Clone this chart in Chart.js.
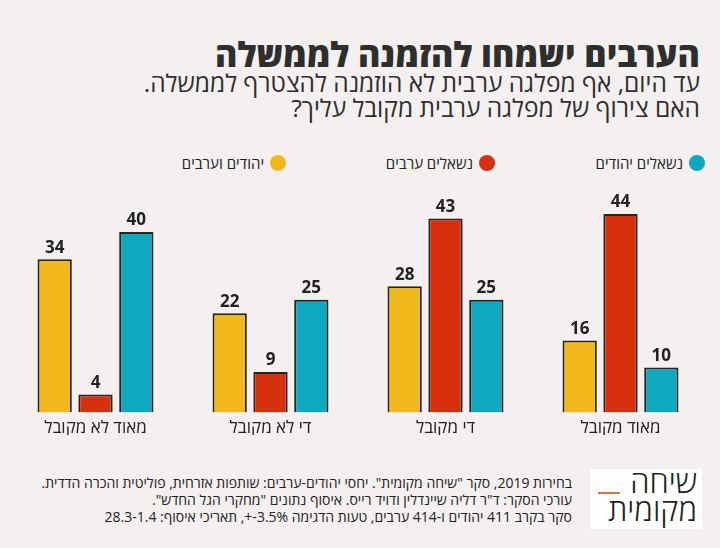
<!DOCTYPE html>
<html lang="he" dir="rtl">
<head>
<meta charset="utf-8">
<script src="https://cdn.jsdelivr.net/npm/chart.js@4.4.1/dist/chart.umd.min.js"></script>
<style>
  html,body{margin:0;padding:0;}
  body{width:720px;height:548px;background:#f3f0ef;position:relative;overflow:hidden;
       font-family:"Open Sans","DejaVu Sans",sans-serif;color:#2b2b2b;}
  .title{position:absolute;right:20px;top:33px;font-size:34px;font-weight:800;line-height:42px;white-space:nowrap;color:#2e2e2e;}
  .sub{position:absolute;right:20px;top:70px;font-size:24.5px;line-height:25px;white-space:nowrap;color:#2e2e2e;}
  .leg{position:absolute;top:152px;font-size:15px;line-height:22px;white-space:nowrap;display:flex;align-items:center;color:#222;}
  .leg span.dot{display:inline-block;width:16px;height:16px;border-radius:50%;margin-left:6px;}
  #wrap{position:absolute;left:0;top:167px;width:720px;height:268px;}
  .foot{position:absolute;right:148px;top:474px;font-size:14px;line-height:17px;white-space:nowrap;color:#222;}
  .logo{position:absolute;left:590px;top:469px;width:112px;height:60px;background:#fff;}
  .logo .l1{position:absolute;right:5px;top:-3px;font-size:31px;line-height:30px;font-weight:300;color:#222;}
  .logo .l2{position:absolute;right:5px;top:25px;font-size:31px;line-height:30px;font-weight:300;color:#222;}
  .logo .bar{position:absolute;left:8px;top:23px;width:22px;height:2px;background:#e0703f;}
</style>
</head>
<body>
<div class="title">הערבים ישמחו להזמנה לממשלה</div>
<div class="sub">עד היום, אף מפלגה ערבית לא הוזמנה להצטרף לממשלה.<br>האם צירוף של מפלגה ערבית מקובל עליך?</div>
<div id="legend"></div>
<div id="wrap"><canvas id="c"></canvas></div>
<div class="foot">בחירות 2019, סקר "שיחה מקומית". יחסי יהודים-ערבים: שותפות אזרחית, פוליטית והכרה הדדית.<br>עורכי הסקר: ד"ר דליה שיינדלין ודויד רייס. איסוף נתונים "מחקרי הגל החדש".<br>סקר בקרב 411 יהודים ו-414 ערבים, טעות הדגימה 3.5%-+, תאריכי איסוף: 28.3-1.4</div>
<div class="logo"><div class="l1">שיחה</div><div class="bar"></div><div class="l2">מקומית</div></div>
<script>
// categories in reading (right-to-left) order
const categories = ["מאוד מקובל", "די מקובל", "די לא מקובל", "מאוד לא מקובל"];
const seriesNames = ["יהודים וערבים", "נשאלים ערבים", "נשאלים יהודים"];
const jewsAndArabs = [16, 28, 22, 34];
const arabRespondents = [44, 43, 9, 4];
const jewishRespondents = [10, 25, 25, 40];
const colors = ["#f1b91c", "#d7300e", "#10a8bf"];
const legendX = [278, 487, 697];

// legend (HTML)
const lg = document.getElementById('legend');
seriesNames.forEach((n, i) => {
  const d = document.createElement('div');
  d.className = 'leg';
  d.style.right = (720 - legendX[i] - 8) + 'px';
  d.innerHTML = '<span class="dot" style="background:' + colors[i] + '"></span>' + n;
  lg.appendChild(d);
});

const valueLabels = {
  id: 'valueLabels',
  afterDatasetsDraw(chart) {
    const ctx = chart.ctx;
    ctx.save();
    ctx.font = 'bold 17px "Open Sans","DejaVu Sans",sans-serif';
    ctx.fillStyle = '#222';
    ctx.textAlign = 'center';
    ctx.textBaseline = 'bottom';
    chart.data.datasets.forEach((ds, i) => {
      chart.getDatasetMeta(i).data.forEach((bar, j) => {
        ctx.fillText(String(ds.data[j]), bar.x, bar.y - 3);
      });
    });
    ctx.restore();
  }
};

const seriesData = [jewsAndArabs, arabRespondents, jewishRespondents];
new Chart(document.getElementById('c'), {
  type: 'bar',
  data: {
    labels: categories,
    datasets: seriesNames.map((n, i) => ({
      label: n,
      data: seriesData[i],
      backgroundColor: colors[i],
      borderColor: '#2a2220',
      borderWidth: 2,
      categoryPercentage: 0.70,
      barPercentage: 0.84
    }))
  },
  options: {
    responsive: true,
    maintainAspectRatio: false,
    animation: false,
    layout: { padding: { left: 8, right: 12, top: 20, bottom: 0 } },
    plugins: { legend: { display: false }, tooltip: { enabled: false } },
    scales: {
      x: {
        reverse: true,
        grid: { display: false },
        border: { display: false },
        ticks: { color: '#222', font: { size: 17, family: '"Open Sans","DejaVu Sans",sans-serif' }, padding: -3 }
      },
      y: { display: false, min: 0, max: 50 }
    }
  },
  plugins: [valueLabels]
});
</script>
</body>
</html>
